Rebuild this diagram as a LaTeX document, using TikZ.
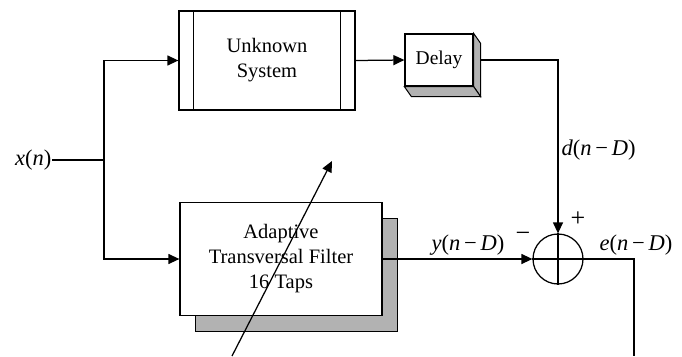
\documentclass[tikz,border=0pt]{standalone}
\usepackage{fontspec}
\setmainfont{Liberation Serif}
\usetikzlibrary{arrows.meta,calc}
\newcommand{\vi}[1]{\textit{#1}}
\begin{document}
\begin{tikzpicture}[x=1pt,y=-1pt,
  line width=1.25pt,
  arr/.style={-{Triangle[length=11pt,width=10pt]}},
  blk/.style={draw,fill=white,align=center,font=\fontsize{20.5}{25}\selectfont,inner sep=0pt},
  lab/.style={font=\fontsize{22.5}{24}\selectfont,inner sep=0pt},
  sgn/.style={font=\fontsize{26}{26}\selectfont,inner sep=0pt},
  shade/.style={fill=gray!60,draw=black,line width=1pt}]
\useasboundingbox (0,0) rectangle (682,356);

% nodes
\node[blk,minimum width=176pt,minimum height=99pt] (unk) at (267,60.5) {Unknown\\System};
\node[blk,minimum width=68pt,minimum height=52pt,font=\fontsize{19.5}{22}\selectfont] (dly) at (439,60) {Delay};
\node[draw,circle,minimum size=50pt,inner sep=0pt] (sum) at (558,259) {};
\node[lab,anchor=east] (xn) at (52,160) {\vi{x}(\vi{n})};
\coordinate (j1) at (104,160);
\coordinate (eout) at (634,356);
\coordinate (adA) at (232,356);
\coordinate (adB) at (332,161);

% lines below boxes
\draw (xn.east) -- (j1);
\draw[arr] (j1) |- (unk.west);
\draw[arr] (dly.east) -| (sum.north);

% filter shadow and box
\fill[gray!60] (195,218) rectangle (397,331);
\draw[line width=1pt] (382,218) -- (397,218) -- (397,331) -- (195,331) -- (195,316);
\node[blk,minimum width=202pt,minimum height=113pt] (filt) at (281,259) {Adaptive\\Transversal Filter\\16 Taps};
\draw[arr] (j1) |- (filt.west);

% unknown system inner lines
\draw ([xshift=15pt]unk.north west) -- ([xshift=15pt]unk.south west);
\draw ([xshift=-15pt]unk.north east) -- ([xshift=-15pt]unk.south east);
\draw[arr] (unk.east) -- (dly.west);

% delay 3D sides
\draw[shade] (dly.north east) -- ($(dly.north east)+(7,10)$) -- ($(dly.south east)+(7,10)$) -- (dly.south east) -- cycle;
\draw[shade] (dly.south west) -- (dly.south east) -- ($(dly.south east)+(7,10)$) -- ($(dly.south west)+(7,10)$) -- cycle;
\draw (dly.north west) rectangle (dly.south east);

% summing junction
\draw (sum.north) -- (sum.south);
\draw[arr] (filt.east) -- (sum.west);
\draw (sum.west) -- (sum.east);
\draw (sum.east) -| (eout);

% adaptation arrow
\draw[arr] (adA) -- (adB);

% labels
\node[lab,anchor=west] (dl) at (561,150) {\vi{d}(\vi{n}\,−\,\vi{D})};
\node[lab] (yl) at (468,245) {\vi{y}(\vi{n}\,−\,\vi{D})};
\node[lab] (el) at (636,245) {\vi{e}(\vi{n}\,−\,\vi{D})};
\node[sgn] (pl) at (578,219) {+};
\node[sgn] (mi) at (523,237) {−};
\end{tikzpicture}
\end{document}
